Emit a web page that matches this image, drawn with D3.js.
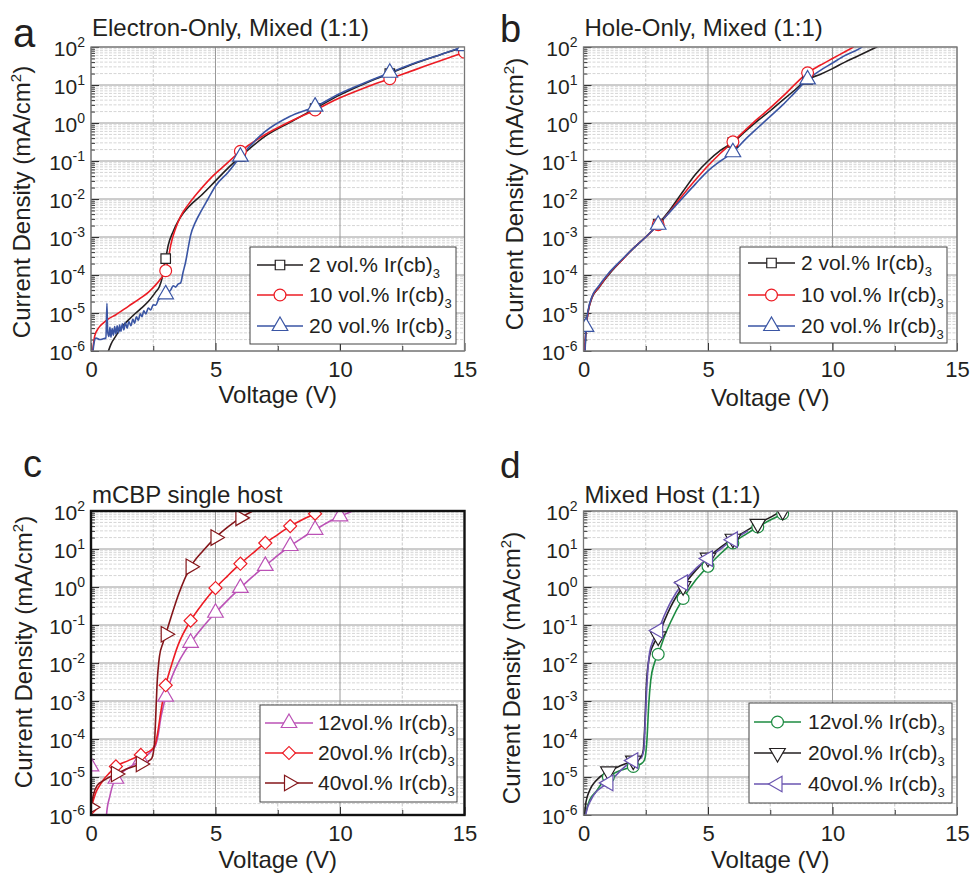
<!DOCTYPE html>
<html>
<head>
<meta charset="utf-8">
<script src="https://cdn.jsdelivr.net/npm/d3@7"></script>
<style>
  body { margin: 0; background: #fff; }
  svg { font-family: "Liberation Sans", Arial, sans-serif; }
</style>
</head>
<body>
<svg id="chart" width="971" height="874"></svg>
<script>
// ---- data (voltage V, current density mA/cm2) ----
const eoIr2 = [[0.65,8e-7],[0.8,1.5e-6],[1.0,2.5e-6],[1.2,4e-6],[1.5,6.5e-6],[1.8,1e-5],[2.0,1.3e-5],[2.3,2e-5],[2.6,3.6e-5],[2.75,5e-5],[2.85,8e-5],[2.95,2e-4],[3.0,2.7e-4],[3.1,6e-4],[3.3,1.4e-3],[3.5,2.6e-3],[3.7,4.2e-3],[4.0,7e-3],[4.4,1.2e-2],[5.0,3e-2],[5.5,6.5e-2],[6,0.13],[7,0.45],[8,1.05],[9,2.4],[10,5.5],[11,11],[12,20],[13,37],[14,62],[15,100]];
const eoIr10 = [[0.05,8e-7],[0.15,2.5e-6],[0.3,4e-6],[0.5,5.5e-6],[0.7,7e-6],[1.0,9e-6],[1.5,1.5e-5],[2.0,2.5e-5],[2.3,3.5e-5],[2.6,5.5e-5],[2.8,8e-5],[3.0,1.3e-4],[3.1,2.5e-4],[3.2,6e-4],[3.4,1.7e-3],[3.6,3.5e-3],[3.9,7e-3],[4.3,1.5e-2],[4.8,3.5e-2],[5.3,7e-2],[6,0.18],[7,0.5],[8,1.1],[9,2.2],[10,4.6],[11,8.5],[12,14.6],[13,25],[14,43],[15,73]];
const eoIr20 = [[0.08,1e-6],[0.12,1.6e-6],[0.2,2.2e-6],[0.35,2.0e-6],[0.5,2.1e-6],[0.6,2.2e-6],[0.64,1.8e-5],[0.67,3.2e-6],[0.72,2.4e-6],[0.76,4.2e-6],[0.8,2.3e-6],[0.85,3.9e-6],[0.9,2.6e-6],[0.95,4.4e-6],[1.0,2.8e-6],[1.05,4.6e-6],[1.1,3.0e-6],[1.15,4.8e-6],[1.2,3.3e-6],[1.26,5.2e-6],[1.32,3.6e-6],[1.38,5.6e-6],[1.45,4e-6],[1.52,6e-6],[1.6,4.6e-6],[1.68,6.8e-6],[1.75,5.4e-6],[1.82,8e-6],[1.9,6.5e-6],[1.98,9.5e-6],[2.05,8e-6],[2.12,1.15e-5],[2.2,9.5e-6],[2.3,1.35e-5],[2.4,1.2e-5],[2.5,1.65e-5],[2.6,1.6e-5],[2.7,2.2e-5],[2.8,2.5e-5],[3.0,3.1e-5],[3.2,4.0e-5],[3.3,5.2e-5],[3.4,4.8e-5],[3.5,5.8e-5],[3.6,6.2e-5],[3.7,1.2e-4],[3.8,2.2e-4],[3.9,5e-4],[4.0,1.1e-3],[4.2,2.5e-3],[4.4,4.5e-3],[4.7,1e-2],[5.0,2.2e-2],[5.5,5e-2],[6,0.13],[7,0.6],[8,1.5],[9,2.7],[10,6],[11,11.5],[12,21],[13,38],[14,62],[15,105]];

const hoIr2 = [[0.03,5e-7],[0.08,2e-6],[0.12,5e-6],[0.2,1.2e-5],[0.35,2.6e-5],[0.6,4.5e-5],[1.0,1e-4],[1.5,2.3e-4],[2.0,5e-4],[2.5,1e-3],[3.0,2.2e-3],[3.5,5.5e-3],[4.0,1.6e-2],[4.5,4.5e-2],[5.0,0.1],[5.5,0.19],[6,0.31],[6.5,0.6],[7,1.15],[7.5,2.1],[8,4],[8.5,7.5],[9,14],[9.5,19],[10,27],[10.5,40],[11,57],[11.5,82],[11.8,102]];
const hoIr10 = [[0.02,5e-7],[0.07,2e-6],[0.12,5e-6],[0.2,1.2e-5],[0.35,2.7e-5],[0.6,4.6e-5],[1,1.05e-4],[1.5,2.3e-4],[2,5e-4],[2.5,1e-3],[3,2.1e-3],[3.5,5e-3],[4,1.3e-2],[4.5,3.2e-2],[5,0.075],[5.5,0.16],[6,0.32],[6.5,0.65],[7,1.3],[7.5,2.5],[8,5],[8.5,10.5],[9,21],[9.5,33],[10,50],[10.5,75],[10.85,100]];
const hoIr20 = [[0.05,5e-7],[0.08,2e-6],[0.1,4.3e-6],[0.2,1.3e-5],[0.35,2.8e-5],[0.6,5e-5],[1,1.1e-4],[1.5,2.4e-4],[2,5e-4],[2.5,1e-3],[3,2.1e-3],[3.5,4.8e-3],[4,1.1e-2],[4.5,2.5e-2],[5,0.055],[5.5,0.1],[6,0.17],[6.5,0.37],[7,0.75],[7.5,1.5],[8,3],[8.5,6.5],[9,14],[9.5,24],[10,38],[10.5,60],[11,85],[11.2,100]];

const spIr12 = [[0,1.9e-5],[0.3,null],[0.58,5e-7],[0.65,1.5e-6],[0.75,3e-6],[0.85,5.5e-6],[1,9e-6],[1.3,1.4e-5],[1.6,1.9e-5],[2,2.9e-5],[2.3,4e-5],[2.5,5.5e-5],[2.6,7e-5],[2.7,1.3e-4],[2.8,3.5e-4],[2.9,7e-4],[3,1.3e-3],[3.2,3.5e-3],[3.5,1e-2],[4,3.4e-2],[4.5,0.09],[5,0.21],[5.5,0.46],[6,0.95],[6.5,1.9],[7,3.6],[7.5,6.8],[8,12],[8.5,20],[9,32],[9.5,50],[10,72],[10.5,100]];
const spIr20 = [[0,1.5e-6],[0.1,2.5e-6],[0.2,4e-6],[0.35,6e-6],[0.5,8.5e-6],[0.75,1.3e-5],[1,1.9e-5],[1.5,2.7e-5],[2,3.8e-5],[2.3,4.6e-5],[2.5,5.8e-5],[2.6,8e-5],[2.7,1.8e-4],[2.8,5e-4],[2.9,1.2e-3],[3,2.6e-3],[3.2,7.5e-3],[3.5,3e-2],[4,0.13],[4.5,0.38],[5,0.94],[5.5,2],[6,4.1],[6.5,7.8],[7,14.4],[7.5,24],[8,40],[8.5,60],[9,85],[9.2,100]];
const spIr40 = [[0,1.6e-6],[0.1,3.5e-6],[0.25,6e-6],[0.5,8e-6],[1,1.2e-5],[1.5,1.7e-5],[2,2.2e-5],[2.3,2.6e-5],[2.45,3.2e-5],[2.55,8e-5],[2.6,4e-4],[2.65,2.5e-3],[2.75,1.5e-2],[2.9,3.5e-2],[3,5.7e-2],[3.2,0.15],[3.5,0.6],[4,3.4],[4.5,9],[5,20],[5.5,38],[6,66],[6.5,100]];

const mhIr12 = [[0.03,6e-7],[0.1,1.2e-6],[0.25,2.5e-6],[0.5,4.1e-6],[0.75,7e-6],[1,1e-5],[1.5,1.5e-5],[2,1.9e-5],[2.3,2.2e-5],[2.45,2.8e-5],[2.55,1e-4],[2.62,8e-4],[2.7,3.5e-3],[2.85,1e-2],[3,1.7e-2],[3.25,5e-2],[3.5,0.12],[4,0.5],[4.5,1.5],[5,3.5],[5.5,7.5],[6,14.4],[6.5,24],[7,38],[7.5,58],[8,85],[8.15,100]];
const mhIr20 = [[0.03,8e-7],[0.1,2.2e-6],[0.25,4.5e-6],[0.5,8e-6],[1,1.4e-5],[1.5,2e-5],[2,2.7e-5],[2.3,3.3e-5],[2.4,5e-5],[2.47,3e-4],[2.53,3e-3],[2.65,1.5e-2],[2.8,3e-2],[3,5e-2],[3.25,0.13],[3.5,0.3],[4,1.05],[4.5,2.7],[5,5.9],[5.5,11],[6,18.6],[6.5,29],[7,46],[7.5,68],[7.9,94],[8.0,100]];
const mhIr40 = [[0.05,5e-7],[0.1,1.1e-6],[0.3,2.5e-6],[0.5,4e-6],[0.75,5.5e-6],[1,7e-6],[1.5,1.5e-5],[2,2.7e-5],[2.3,3.1e-5],[2.42,5e-5],[2.48,3e-4],[2.55,3e-3],[2.65,1.8e-2],[2.8,4e-2],[3,7.2e-2],[3.25,0.18],[3.5,0.4],[4,1.3],[4.5,3],[5,5.6],[5.5,10],[6,17.6],[6.3,23],[6.6,30]];

// voltages where symbols sit
const markA = [3, 6, 9, 12, 15];
const markB = [3, 6, 9, 12];
const markB20 = [0.1, 3, 6, 9];
const markInt = [0, 1, 2, 3, 4, 5, 6, 7, 8, 9, 10];

const xTicks = [0, 5, 10, 15];
const xMinor = [2.5, 7.5, 12.5];
const decades = [-6, -5, -4, -3, -2, -1, 0, 1, 2];

const svg = d3.select("#chart");
const txt = "#231f20";

const panels = [
  { left: 91, top: 47, letter: "a", lx: 13, ly: 47, ls: 40, title: "Electron-Only, Mixed (1:1)", ty: 36,
    frame: "#777", fw: 1.3, ylabCy: 202, ylabX: -61, xlabY: 403,
    legend: { x: 250, y: 247, w: 206, h: 97, rows: [18, 48, 79], l0: 7, l1: 53, tx: 59 },
    series: [
      { data: eoIr2, color: "#231f20", sym: "square", marks: markA, label: "2 vol.% Ir(cb)" },
      { data: eoIr10, color: "#ec1c24", sym: "circle", marks: markA, label: "10 vol.% Ir(cb)" },
      { data: eoIr20, color: "#3a55a4", sym: "up", marks: markA, label: "20 vol.% Ir(cb)" }
    ] },
  { left: 583.5, top: 47, letter: "b", lx: 500, ly: 42, ls: 38, title: "Hole-Only, Mixed (1:1)", ty: 36,
    frame: "#777", fw: 1.3, ylabCy: 194, ylabX: -61, xlabY: 406,
    legend: { x: 740, y: 247, w: 207, h: 96, rows: [16, 48, 79], l0: 8, l1: 55, tx: 61 },
    series: [
      { data: hoIr2, color: "#231f20", sym: "square", marks: markB, label: "2 vol.% Ir(cb)" },
      { data: hoIr10, color: "#ec1c24", sym: "circle", marks: markB, label: "10 vol.% Ir(cb)" },
      { data: hoIr20, color: "#3a55a4", sym: "up", marks: markB20, label: "20 vol.% Ir(cb)" }
    ] },
  { left: 91, top: 511, letter: "c", lx: 23, ly: 477, ls: 38, title: "mCBP single host", ty: 503,
    frame: "#111", fw: 2.4, ylabCy: 652, ylabX: -59, xlabY: 868,
    legend: { x: 260, y: 705, w: 197, h: 97, rows: [18, 48, 78], l0: 5, l1: 53, tx: 58 },
    series: [
      { data: spIr12, color: "#bb52b6", sym: "up", marks: markInt, label: "12vol.% Ir(cb)" },
      { data: spIr20, color: "#ed1c24", sym: "diamond", marks: markInt, label: "20vol.% Ir(cb)" },
      { data: spIr40, color: "#84161a", sym: "right", marks: markInt, label: "40vol.% Ir(cb)" }
    ] },
  { left: 583.5, top: 511, letter: "d", lx: 500, ly: 478, ls: 37, title: "Mixed Host (1:1)", ty: 503,
    frame: "#777", fw: 1.3, ylabCy: 668, ylabX: -64, xlabY: 868,
    legend: { x: 749, y: 703, w: 203, h: 100, rows: [19, 50, 81], l0: 5, l1: 52, tx: 59 },
    series: [
      { data: mhIr12, color: "#1d8b41", sym: "circle", marks: markInt, label: "12vol.% Ir(cb)" },
      { data: mhIr20, color: "#231f20", sym: "down", marks: markInt, label: "20vol.% Ir(cb)" },
      { data: mhIr40, color: "#6a55b0", sym: "left", marks: markInt, label: "40vol.% Ir(cb)" }
    ] }
];

const PW = 373.5, PH = 304;

function symbolPath(sym) {
  const map = { square: [d3.symbolSquare, 90, 0], circle: [d3.symbolCircle, 110, 0], up: [d3.symbolTriangle, 105, 0],
    down: [d3.symbolTriangle, 105, 180], right: [d3.symbolTriangle, 105, 90], left: [d3.symbolTriangle, 105, -90],
    diamond: [d3.symbolSquare, 85, 45] };
  const m = map[sym];
  return { d: d3.symbol().type(m[0]).size(m[1])(), rot: m[2] };
}

panels.forEach((p, pi) => {
  const x = d3.scaleLinear().domain([0, 15]).range([0, PW]);
  const y = d3.scaleLog().domain([1e-6, 1e2]).range([PH, 0]);
  const g = svg.append("g").attr("transform", `translate(${p.left},${p.top})`);

  // grid
  const minorY = [];
  decades.slice(0, -1).forEach(e => { for (let k = 2; k <= 9; k++) minorY.push(k * Math.pow(10, e)); });
  g.selectAll(".ymin").data(minorY).enter().append("line")
    .attr("x1", 0).attr("x2", PW).attr("y1", d => y(d)).attr("y2", d => y(d))
    .attr("stroke", "#c4c4c4").attr("stroke-width", 0.7).attr("stroke-dasharray", "3,1.5");
  g.selectAll(".xmin").data(xMinor).enter().append("line")
    .attr("y1", 0).attr("y2", PH).attr("x1", d => x(d)).attr("x2", d => x(d))
    .attr("stroke", "#bdbdbd").attr("stroke-width", 0.8).attr("stroke-dasharray", "3,1.5");
  g.selectAll(".ymaj").data(decades).enter().append("line")
    .attr("x1", 0).attr("x2", PW).attr("y1", d => y(Math.pow(10, d))).attr("y2", d => y(Math.pow(10, d)))
    .attr("stroke", "#9a9a9a").attr("stroke-width", 1);
  g.selectAll(".xmaj").data(xTicks).enter().append("line")
    .attr("y1", 0).attr("y2", PH).attr("x1", d => x(d)).attr("x2", d => x(d))
    .attr("stroke", "#9a9a9a").attr("stroke-width", 1);

  // axes (inward ticks)
  const yMajorAxis = d3.axisLeft(y).tickValues(decades.map(e => Math.pow(10, e))).tickFormat("").tickSize(-8);
  const yMinorAxis = d3.axisLeft(y).tickValues(minorY).tickFormat("").tickSize(-4);
  const xMajorAxis = d3.axisBottom(x).tickValues(xTicks).tickSize(-8).tickPadding(10).tickFormat(d3.format("d"));
  const xMinorAxis = d3.axisBottom(x).tickValues(xMinor).tickFormat("").tickSize(-5);
  [g.append("g").call(yMajorAxis), g.append("g").call(yMinorAxis)].forEach(a => {
    a.select(".domain").remove();
    a.selectAll("line").attr("stroke", "#333").attr("stroke-width", 1);
  });
  const xa = g.append("g").attr("transform", `translate(0,${PH})`).call(xMajorAxis);
  const xm = g.append("g").attr("transform", `translate(0,${PH})`).call(xMinorAxis);
  [xa, xm].forEach(a => { a.select(".domain").remove(); a.selectAll("line").attr("stroke", "#333"); });
  xa.selectAll("text").attr("font-size", 22).attr("fill", txt).attr("font-family", null);

  // y tick labels 10^n
  decades.forEach(e => {
    const t = g.append("text").attr("x", -6).attr("y", y(Math.pow(10, e)) + 9)
      .attr("text-anchor", "end").attr("fill", txt).attr("font-size", 21);
    t.append("tspan").text("10");
    t.append("tspan").attr("font-size", 14).attr("dy", -9).text(e);
  });

  // curves
  const clipId = "clip" + pi;
  g.append("clipPath").attr("id", clipId).append("rect").attr("width", PW).attr("height", PH);
  const plot = g.append("g").attr("clip-path", `url(#${clipId})`);
  const line = d3.line().defined(d => d[1] != null).x(d => x(d[0])).y(d => y(d[1])).curve(d3.curveMonotoneX);
  p.series.forEach(s => {
    plot.append("path").datum(s.data).attr("d", line)
      .attr("fill", "none").attr("stroke", s.color).attr("stroke-width", 1.6);
  });
  p.series.forEach(s => {
    const sp = symbolPath(s.sym);
    const pts = s.data.filter(d => d[1] != null && s.marks.some(m => Math.abs(m - d[0]) < 1e-9));
    plot.selectAll(null).data(pts).enter().append("path")
      .attr("d", sp.d)
      .attr("transform", d => `translate(${x(d[0])},${y(d[1])}) rotate(${sp.rot})`)
      .attr("fill", "#fff").attr("stroke", s.color).attr("stroke-width", 1.2);
  });

  // frame
  g.append("rect").attr("width", PW).attr("height", PH).attr("fill", "none")
    .attr("stroke", p.frame).attr("stroke-width", p.fw);

  // legend
  const L = p.legend;
  const lg = svg.append("g").attr("transform", `translate(${L.x},${L.y})`);
  lg.append("rect").attr("width", L.w).attr("height", L.h).attr("fill", "#fff")
    .attr("stroke", "#444").attr("stroke-width", 1);
  p.series.forEach((s, i) => {
    const ry = L.rows[i];
    lg.append("line").attr("x1", L.l0).attr("x2", L.l1).attr("y1", ry).attr("y2", ry)
      .attr("stroke", s.color).attr("stroke-width", 1.6);
    const sp = symbolPath(s.sym);
    lg.append("path").attr("d", sp.d)
      .attr("transform", `translate(${(L.l0 + L.l1) / 2},${ry}) rotate(${sp.rot})`)
      .attr("fill", "#fff").attr("stroke", s.color).attr("stroke-width", 1.2);
    const t = lg.append("text").attr("x", L.tx).attr("y", ry + 7).attr("fill", txt).attr("font-size", 21);
    t.append("tspan").text(s.label);
    t.append("tspan").attr("font-size", 13).attr("dy", 6).text("3");
  });

  // labels
  svg.append("text").attr("x", p.lx).attr("y", p.ly).attr("font-size", p.ls).attr("fill", txt).text(p.letter);
  svg.append("text").attr("x", p.left + 1).attr("y", p.ty).attr("font-size", 24).attr("fill", txt).text(p.title);
  svg.append("text").attr("x", p.left + PW / 2).attr("y", p.xlabY).attr("text-anchor", "middle")
    .attr("font-size", 24).attr("fill", txt).text("Voltage (V)");
  const yl = svg.append("text").attr("transform", `translate(${p.left + p.ylabX},${p.ylabCy}) rotate(-90)`)
    .attr("text-anchor", "middle").attr("font-size", 24).attr("fill", txt);
  yl.append("tspan").text("Current Density (mA/cm");
  yl.append("tspan").attr("font-size", 15).attr("dy", -9).text("2");
  yl.append("tspan").attr("dy", 9).text(")");
});
</script>
</body>
</html>
